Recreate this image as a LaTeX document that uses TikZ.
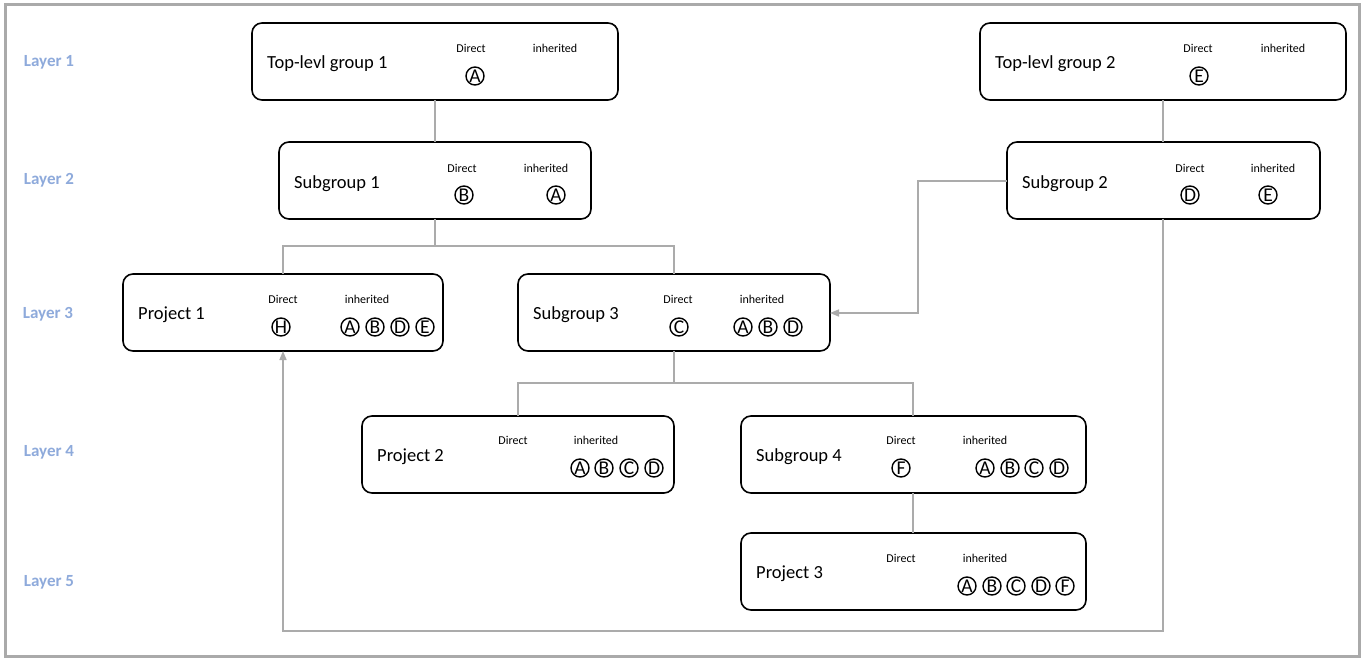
\documentclass[tikz,border=0pt]{standalone}
\usepackage{fontspec}
\setmainfont{Carlito}
\usetikzlibrary{arrows.meta}
\definecolor{frame}{HTML}{AAAAAA}
\definecolor{conn}{HTML}{ABABAB}
\definecolor{layer}{HTML}{8EAADB}
\tikzset{
  box/.style={draw=black, line width=1.6pt, rounded corners=10pt},
  title/.style={anchor=west, font=\fontsize{18.5}{20}\selectfont, inner sep=0pt, yshift=-1.5pt},
  small/.style={font=\fontsize{12}{14}\selectfont, inner sep=0pt},
  circ/.style={draw=black, line width=1.4pt, circle, minimum size=18pt, inner sep=0pt, font=\fontsize{19.5}{19.5}\selectfont},
  layerlbl/.style={text=layer, font=\fontsize{17}{19}\selectfont\bfseries, inner sep=0pt, yshift=-1pt},
  conn/.style={draw=conn, line width=1.6pt},
  arr/.style={conn, -{Triangle[length=9pt,width=7pt]}}
}
\begin{document}
\begin{tikzpicture}[x=1pt,y=-1pt]
\useasboundingbox (0,0) rectangle (1365,661);
\draw[frame, line width=3pt] (5,5) rectangle (1359,656);
% layer labels
\node[layerlbl] (L1) at (49,61) {Layer 1};
\node[layerlbl] (L2) at (49,179) {Layer 2};
\node[layerlbl] (L3) at (48,313) {Layer 3};
\node[layerlbl] (L4) at (49,451) {Layer 4};
\node[layerlbl] (L5) at (49,581) {Layer 5};
% boxes
\draw[box] (252,23) rectangle (618,100); \coordinate (tg1b) at (435,100);
\draw[box] (980,23) rectangle (1346,100); \coordinate (tg2b) at (1163,100);
\draw[box] (279,142) rectangle (591,219); \coordinate (sg1t) at (435,142); \coordinate (sg1b) at (435,219);
\draw[box] (1007,142) rectangle (1320,219); \coordinate (sg2t) at (1163,142); \coordinate (sg2b) at (1163,219); \coordinate (sg2l) at (1007,181);
\draw[box] (123,274) rectangle (443,351); \coordinate (p1t) at (283,274); \coordinate (p1b) at (283,351);
\draw[box] (518,274) rectangle (830,351); \coordinate (sg3t) at (674,274); \coordinate (sg3b) at (674,351); \coordinate (sg3r) at (830,313);
\draw[box] (362,416) rectangle (674,493); \coordinate (p2t) at (518,416);
\draw[box] (741,416) rectangle (1086,493); \coordinate (sg4t) at (913,416); \coordinate (sg4b) at (913,493);
\draw[box] (741,533) rectangle (1086,610); \coordinate (p3t) at (913,533);
% Top-level group 1
\node[title] (t1) at (267,62) {Top-levl group 1};
\node[small] (t1d) at (471,48) {Direct};
\node[small] (t1i) at (555,48) {inherited};
\node[circ] (t1a) at (475,76) {A};
% Top-level group 2
\node[title] (t2) at (995,62) {Top-levl group 2};
\node[small] (t2d) at (1198,48) {Direct};
\node[small] (t2i) at (1283,48) {inherited};
\node[circ] (t2e) at (1199,76) {E};
% Subgroup 1
\node[title] (s1) at (294,182) {Subgroup 1};
\node[small] (s1d) at (462,168) {Direct};
\node[small] (s1i) at (546,168) {inherited};
\node[circ] (s1b) at (464,195) {B};
\node[circ] (s1a) at (556,195) {A};
% Subgroup 2
\node[title] (s2) at (1022,182) {Subgroup 2};
\node[small] (s2d) at (1190,168) {Direct};
\node[small] (s2i) at (1273,168) {inherited};
\node[circ] (s2dd) at (1190,195) {D};
\node[circ] (s2e) at (1268,195) {E};
% Project 1
\node[title] (p1) at (138,313) {Project 1};
\node[small] (p1d) at (283,299) {Direct};
\node[small] (p1i) at (367,299) {inherited};
\node[circ] (p1h) at (281,327) {H};
\node[circ] (p1a) at (350,327) {A};
\node[circ] (p1bb) at (375,327) {B};
\node[circ] (p1dd) at (400,327) {D};
\node[circ] (p1e) at (425,327) {E};
% Subgroup 3
\node[title] (s3) at (533,313) {Subgroup 3};
\node[small] (s3d) at (678,299) {Direct};
\node[small] (s3i) at (762,299) {inherited};
\node[circ] (s3c) at (679,327) {C};
\node[circ] (s3a) at (743,327) {A};
\node[circ] (s3bb) at (768,327) {B};
\node[circ] (s3dd) at (793,327) {D};
% Project 2
\node[title] (p2) at (377,455) {Project 2};
\node[small] (p2d) at (513,440) {Direct};
\node[small] (p2i) at (596,440) {inherited};
\node[circ] (p2a) at (580,468) {A};
\node[circ] (p2bb) at (604,468) {B};
\node[circ] (p2c) at (629,468) {C};
\node[circ] (p2dd) at (654,468) {D};
% Subgroup 4
\node[title] (s4) at (756,455) {Subgroup 4};
\node[small] (s4d) at (901,440) {Direct};
\node[small] (s4i) at (985,440) {inherited};
\node[circ] (s4f) at (901,468) {F};
\node[circ] (s4a) at (985,468) {A};
\node[circ] (s4bb) at (1010,468) {B};
\node[circ] (s4c) at (1034,468) {C};
\node[circ] (s4dd) at (1059,468) {D};
% Project 3
\node[title] (p3) at (756,572) {Project 3};
\node[small] (p3d) at (901,558) {Direct};
\node[small] (p3i) at (985,558) {inherited};
\node[circ] (p3a) at (967,586) {A};
\node[circ] (p3bb) at (992,586) {B};
\node[circ] (p3c) at (1016,586) {C};
\node[circ] (p3dd) at (1041,586) {D};
\node[circ] (p3f) at (1065,586) {F};
% connectors
\draw[conn] (tg1b) -- (sg1t);
\draw[conn] (tg2b) -- (sg2t);
\draw[conn] (sg1b) -- (435,246) -| (p1t);
\draw[conn] (435,246) -| (sg3t);
\draw[conn] (sg3b) -- (674,383) -| (p2t);
\draw[conn] (674,383) -| (sg4t);
\draw[conn] (sg4b) -- (p3t);
\draw[arr] (sg2l) -- (918,181) -- (918,313) -- (sg3r);
\draw[arr] (sg2b) -- (1163,631) -- (283,631) -- (p1b);
\end{tikzpicture}
\end{document}
